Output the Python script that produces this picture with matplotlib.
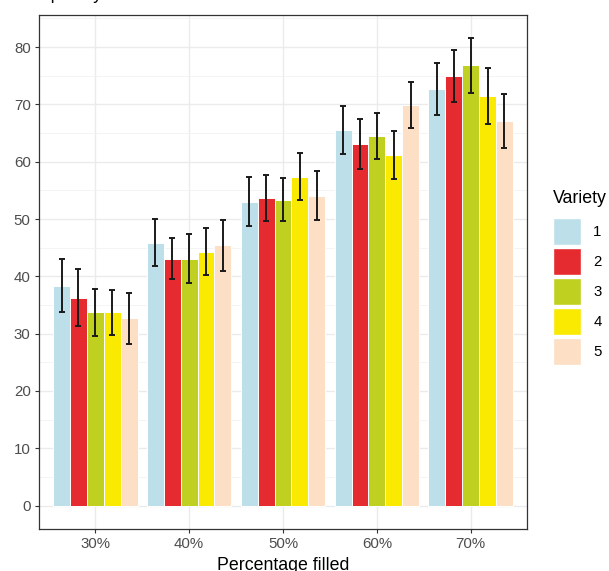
import matplotlib
matplotlib.use("Agg")
import matplotlib.pyplot as plt
from matplotlib.patches import Patch
import numpy as np

plt.rcParams['font.family'] = ['Liberation Sans', 'DejaVu Sans']

fill_levels = ["30%", "40%", "50%", "60%", "70%"]
varieties = ["1", "2", "3", "4", "5"]
colors = ["#BDDFEA", "#E52B2F", "#C0D020", "#FAE900", "#FCDFC4"]

# mean per variety across fill levels
means_v1 = [38.4, 45.9, 53.0, 65.6, 72.7]
means_v2 = [36.3, 43.1, 53.7, 63.1, 75.0]
means_v3 = [33.7, 43.1, 53.4, 64.5, 76.8]
means_v4 = [33.7, 44.3, 57.4, 61.2, 71.5]
means_v5 = [32.7, 45.4, 54.1, 69.9, 67.1]

# error half-widths
err_v1 = [4.55, 4.05, 4.25, 4.2, 4.55]
err_v2 = [4.95, 3.55, 4.05, 4.35, 4.5]
err_v3 = [4.15, 4.3, 3.7, 4.0, 4.75]
err_v4 = [3.95, 4.05, 4.1, 4.2, 4.9]
err_v5 = [4.45, 4.5, 4.2, 3.95, 4.7]

means = [means_v1, means_v2, means_v3, means_v4, means_v5]
errs = [err_v1, err_v2, err_v3, err_v4, err_v5]

fig = plt.figure(figsize=(6.09, 5.71), dpi=100)
ax = fig.add_axes([39 / 609, 1 - 529 / 571, (527 - 39) / 609, (529 - 15) / 571])

x = np.arange(1, len(fill_levels) + 1)
bw = 0.18
for k, (m, e) in enumerate(zip(means, errs)):
    xp = x + (k - 2) * bw
    ax.bar(xp, m, width=bw, color=colors[k], edgecolor="white", linewidth=0.7, zorder=2)
    ax.errorbar(xp, m, yerr=e, fmt="none", ecolor="#1A1A1A", elinewidth=1.4,
                capsize=2.0, capthick=1.4, zorder=3)

ax.set_xlim(0.4, 5.6)
ax.set_ylim(-4.08, 85.6)
ax.set_xticks(x)
ax.set_xticklabels(fill_levels)
ax.set_yticks(np.arange(0, 81, 10))
ax.set_yticks(np.arange(5, 86, 10), minor=True)

ax.grid(True, which="major", color="#EBEBEB", linewidth=1.0, zorder=0)
ax.grid(True, which="minor", axis="y", color="#F2F2F2", linewidth=0.6, zorder=0)
ax.set_axisbelow(True)
for s in ax.spines.values():
    s.set_color("#333333")
    s.set_linewidth(0.9)
ax.tick_params(which="major", length=3, width=0.8, color="#333333",
               labelcolor="#4D4D4D", labelsize=10.8, pad=3)
ax.tick_params(which="minor", length=0)

ax.set_xlabel("Percentage filled", fontsize=12.8, color="black", labelpad=4)

# y-axis title sits above the panel, mostly outside the canvas
fig.text(18 / 609, 1 + 1 / 571, "Frequency", fontsize=12.8, color="black",
         ha="left", va="baseline")

handles = [Patch(facecolor=c, edgecolor="white", label=v) for c, v in zip(colors, varieties)]
leg = fig.legend(handles=handles, title="Variety", loc="upper left",
                 bbox_to_anchor=(553 / 609, 1 - 190 / 571), frameon=False,
                 fontsize=10.8, title_fontsize=12.8, handlelength=1.88,
                 handleheight=2.39, labelspacing=0.2, handletextpad=0.8,
                 borderaxespad=0, borderpad=0)
leg._legend_box.align = "left"
leg._legend_box.sep = 8

fig.savefig("out.png", dpi=100)
